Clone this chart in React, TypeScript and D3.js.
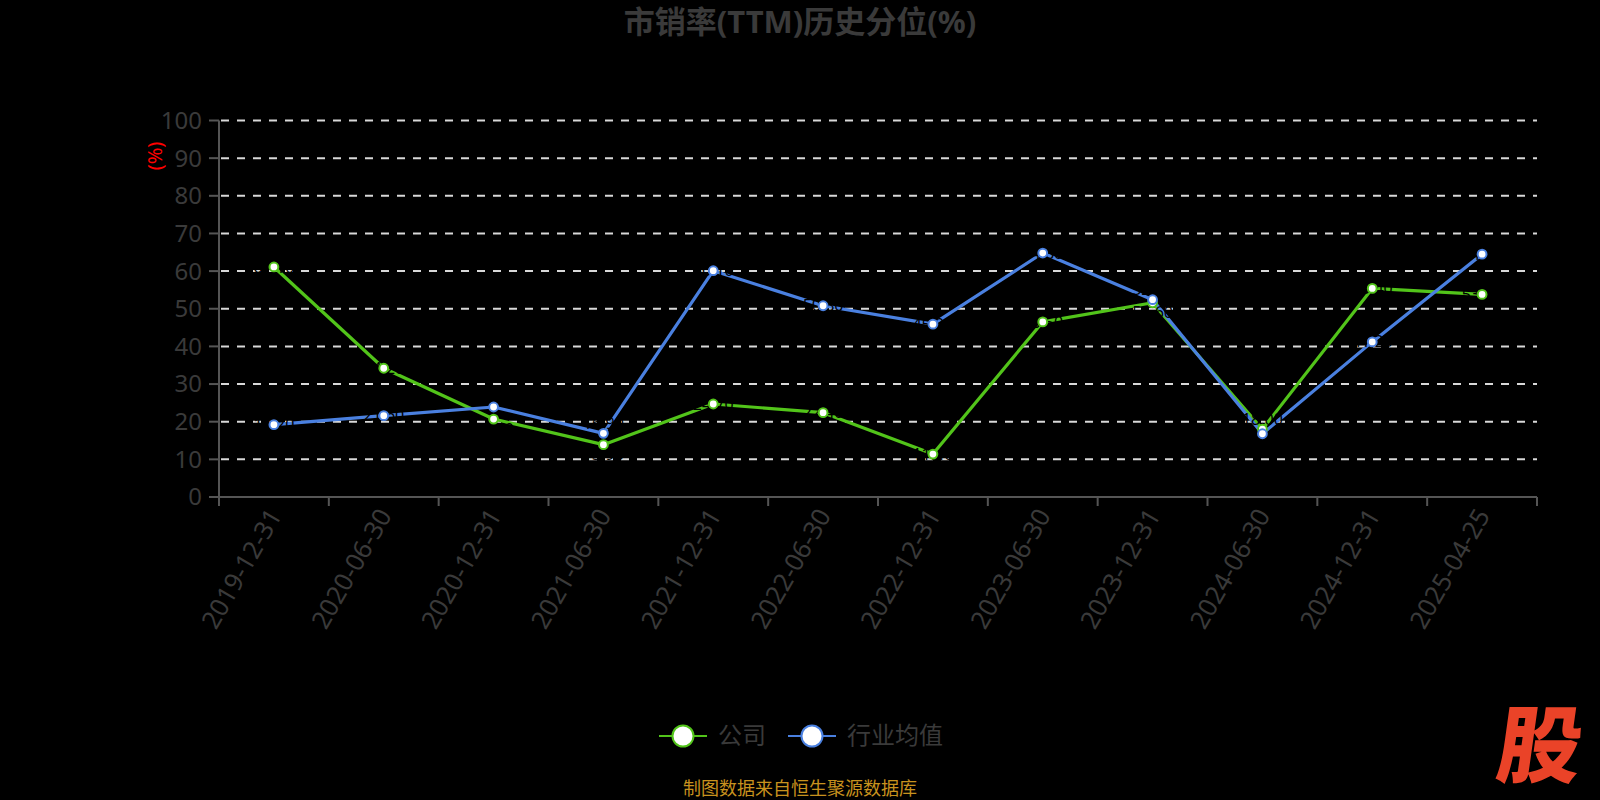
import React from "react";
import * as d3 from "d3";

const categories = [
  "2019-12-31", "2020-06-30", "2020-12-31", "2021-06-30", "2021-12-31", "2022-06-30",
  "2022-12-31", "2023-06-30", "2023-12-31", "2024-06-30", "2024-12-31", "2025-04-25",
];
const companyValues = [61.1, 34.2, 20.7, 13.9, 24.7, 22.4, 11.4, 46.5, 51.6, 18.0, 55.4, 53.8];
const industryValues = [19.2, 21.6, 23.9, 16.9, 60.1, 50.8, 45.9, 64.8, 52.4, 16.8, 41.2, 64.5];
const yTicks = [0, 10, 20, 30, 40, 50, 60, 70, 80, 90, 100];
const seriesNames = ["公司", "行业均值"];

const W = 1600;
const H = 800;
const FONT = "'Noto Sans', 'Noto Sans CJK SC', sans-serif";
const GREEN = "#52c41a";
const BLUE = "#4a80e0";
const TEXT = "#3a3a3a";

export default function App() {
  const left = 219, right = 1537, top = 120.5, bottom = 497;
  const x = d3.scaleBand<string>().domain(categories).range([left, right]);
  const y = d3.scaleLinear().domain([0, 100]).range([bottom, top]);
  const cx = (c: string) => (x(c) as number) + x.bandwidth() / 2;
  const line = d3.line<number>().x((_, i) => cx(categories[i])).y((v) => y(v));
  const series = [
    { name: seriesNames[0], values: companyValues, other: industryValues, color: GREEN },
    { name: seriesNames[1], values: industryValues, other: companyValues, color: BLUE },
  ];
  const tickXs = categories.map((c) => x(c) as number).concat([right]);
  const labelOffset = (v: number, o: number) => (Math.abs(v - o) < 8 ? (v >= o ? -10 : 10) : 0);

  return (
    <svg width={W} height={H} style={{ display: "block", position: "absolute", left: 0, top: 0, background: "#000" }} fontFamily={FONT}>
      <rect x={0} y={0} width={W} height={H} fill="#000" />
      <text x={800} y={33} textAnchor="middle" fontSize={31} fontWeight="bold" fill={TEXT}>
        市销率(TTM)历史分位(%)
      </text>
      {/* grid */}
      {yTicks.filter((t) => t > 0).map((t) => (
        <line key={t} x1={left} x2={right} y1={y(t)} y2={y(t)} stroke="#d8d8d8" strokeWidth={2} strokeDasharray="8 8" strokeDashoffset={-2} />
      ))}
      {/* y axis */}
      <line x1={left} x2={left} y1={top} y2={bottom} stroke="#555" strokeWidth={2} />
      {yTicks.map((t) => (
        <g key={t}>
          <line x1={left - 10} x2={left} y1={y(t)} y2={y(t)} stroke="#555" strokeWidth={2} />
          <text x={202} y={y(t)} dy="0.35em" textAnchor="end" fontSize={24} fill={TEXT}>{t}</text>
        </g>
      ))}
      <text transform={`translate(155,156) rotate(-90)`} textAnchor="middle" dy="0.35em" fontSize={20} fill="#ff0000">(%)</text>
      {/* x axis */}
      <line x1={left} x2={right} y1={bottom} y2={bottom} stroke="#555" strokeWidth={2} />
      {tickXs.map((tx, i) => (
        <line key={i} x1={tx} x2={tx} y1={bottom} y2={bottom + 9} stroke="#555" strokeWidth={2} />
      ))}
      {categories.map((c) => (
        <text key={c} transform={`translate(${cx(c) + 1},${bottom + 14}) rotate(-60)`} textAnchor="end" dy="0.35em" fontSize={25.5} fill={TEXT}>{c}</text>
      ))}
      {/* lines */}
      {series.map((s) => (
        <path key={s.name} d={line(s.values) || ""} fill="none" stroke={s.color} strokeWidth={3.2} strokeLinejoin="round" />
      ))}
      {/* black data labels (nearly invisible on black background) */}
      {series.map((s) =>
        s.values.map((v, i) => (
          <text key={s.name + i} x={cx(categories[i])} y={y(v) + labelOffset(v, s.other[i])} dy="0.35em" textAnchor="middle" fontSize={16} fill="#000">
            {v.toFixed(2)}
          </text>
        ))
      )}
      {/* points */}
      {series.map((s) =>
        s.values.map((v, i) => (
          <circle key={s.name + "p" + i} cx={cx(categories[i])} cy={y(v)} r={4.4} fill="#fff" stroke={s.color} strokeWidth={2} />
        ))
      )}
      {/* legend */}
      <g>
        <line x1={659} x2={707} y1={736} y2={736} stroke={GREEN} strokeWidth={2} />
        <circle cx={683} cy={736} r={10.5} fill="#fff" stroke={GREEN} strokeWidth={2} />
        <text x={718} y={736} dy="0.35em" fontSize={24} fill={TEXT}>{seriesNames[0]}</text>
        <line x1={788} x2={836} y1={736} y2={736} stroke={BLUE} strokeWidth={2} />
        <circle cx={812} cy={736} r={10.5} fill="#fff" stroke={BLUE} strokeWidth={2} />
        <text x={847} y={736} dy="0.35em" fontSize={24} fill={TEXT}>{seriesNames[1]}</text>
      </g>
      <text x={800} y={789} dy="0.35em" textAnchor="middle" fontSize={18} fill="#c8921e">制图数据来自恒生聚源数据库</text>
      <text x={0} y={0} textAnchor="middle" fontSize={84} fontWeight={900} fill="#ea4328" transform="translate(1536,776) skewX(-8)"
        fontFamily="'Noto Sans CJK SC', sans-serif">股</text>
    </svg>
  );
}
